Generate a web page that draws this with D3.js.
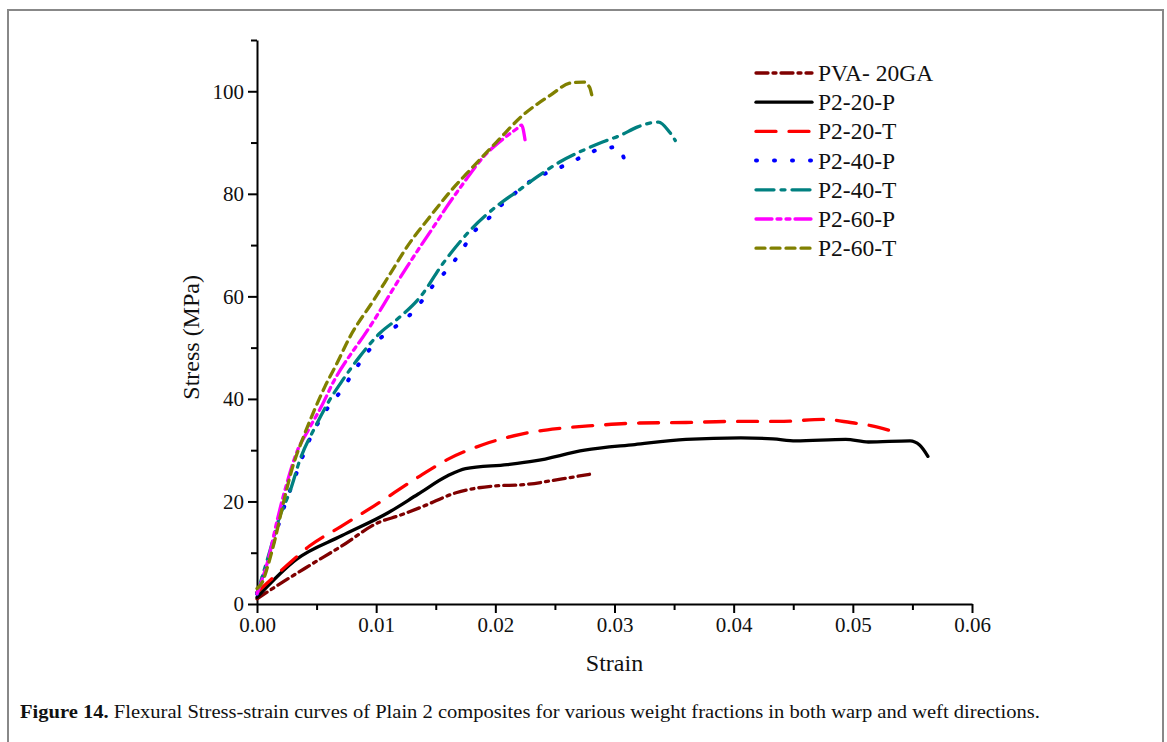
<!DOCTYPE html>
<html>
<head>
<meta charset="utf-8">
<script src="https://cdn.jsdelivr.net/npm/d3@7"></script>
<style>
  body { margin: 0; background: #fff; }
  svg text { font-family: "Liberation Serif", "Times New Roman", serif; }
</style>
</head>
<body>
<div id="chart"></div>
<script>
// values: [strain, stress (MPa)]
const pva20ga = [[0, 1.0], [0.0017, 3.6], [0.0044, 7.5], [0.0071, 11.3], [0.0102, 15.9], [0.012, 17.3], [0.014, 19.1], [0.0167, 21.7], [0.0198, 23.0], [0.0225, 23.3], [0.0256, 24.4], [0.0279, 25.3]];
const p220P = [[0, 1.3], [0.0033, 8.7], [0.0071, 13.3], [0.011, 17.8], [0.0135, 21.4], [0.016, 25.0], [0.0175, 26.4], [0.021, 27.2], [0.0233, 27.9], [0.0275, 30.0], [0.0317, 31.1], [0.036, 32.1], [0.0406, 32.4], [0.0433, 32.2], [0.0452, 31.8], [0.0494, 32.1], [0.0513, 31.6], [0.0548, 31.8], [0.0556, 31.0], [0.0563, 28.8]];
const p220T = [[0, 2.3], [0.0025, 7.5], [0.0044, 11.3], [0.0071, 15.2], [0.0098, 19.1], [0.0137, 25.0], [0.016, 28.2], [0.019, 31.1], [0.0221, 33.1], [0.0252, 34.2], [0.0283, 34.8], [0.0321, 35.3], [0.036, 35.4], [0.0398, 35.6], [0.0437, 35.6], [0.0475, 36.0], [0.0498, 35.4], [0.0515, 34.8], [0.0533, 33.7]];
const p240P = [[0, 2.0], [0.001, 9.0], [0.0021, 17.7], [0.0032, 24.8], [0.0044, 32.0], [0.0061, 38.8], [0.0071, 41.7], [0.0084, 46.3], [0.01, 51.1], [0.0114, 53.7], [0.0128, 56.3], [0.014, 59.6], [0.0149, 62.5], [0.0162, 65.8], [0.0172, 69.0], [0.0181, 72.3], [0.0193, 74.9], [0.0205, 77.8], [0.0218, 80.4], [0.0233, 83.0], [0.0249, 84.6], [0.0264, 86.2], [0.0274, 87.4], [0.0289, 88.8], [0.0303, 89.1], [0.031, 85.2]];
const p240T = [[0, 2.0], [0.0011, 10.5], [0.0019, 17.0], [0.0028, 22.2], [0.0036, 28.1], [0.0049, 34.6], [0.0061, 39.8], [0.0072, 43.7], [0.0086, 48.2], [0.0103, 52.8], [0.012, 56.0], [0.0137, 59.9], [0.0156, 66.4], [0.0179, 72.9], [0.0204, 78.1], [0.0218, 80.4], [0.0235, 83.3], [0.0254, 86.2], [0.0271, 88.2], [0.029, 90.1], [0.0305, 91.4], [0.0319, 93.0], [0.0337, 94.0], [0.0346, 92.1], [0.0351, 90.4]];
const p260P = [[0, 2.0], [0.001, 9.2], [0.0017, 16.4], [0.0025, 23.5], [0.0033, 29.4], [0.0043, 33.9], [0.0054, 38.5], [0.0065, 43.7], [0.0081, 49.5], [0.0089, 52.1], [0.01, 56.0], [0.0112, 60.6], [0.0126, 65.8], [0.0137, 69.7], [0.0148, 73.5], [0.0159, 77.4], [0.0173, 82.0], [0.019, 87.2], [0.0207, 90.8], [0.0218, 92.7], [0.0222, 93.4], [0.0225, 90.4]];
const p260T = [[0, 3.0], [0.0005, 4.5], [0.0008, 6.6], [0.0015, 12.5], [0.0022, 19.6], [0.003, 26.8], [0.0039, 32.6], [0.0047, 37.2], [0.0057, 42.4], [0.0067, 46.9], [0.0078, 52.1], [0.0098, 59.3], [0.0112, 64.5], [0.0126, 69.7], [0.0145, 75.5], [0.0162, 80.4], [0.0181, 85.2], [0.0201, 90.1], [0.0223, 95.3], [0.0246, 99.2], [0.0263, 101.6], [0.0274, 101.8], [0.0279, 100.8], [0.0281, 99.2]];

const seriesNames = ['PVA- 20GA', 'P2-20-P', 'P2-20-T', 'P2-40-P', 'P2-40-T', 'P2-60-P', 'P2-60-T'];
const seriesValues = [pva20ga, p220P, p220T, p240P, p240T, p260P, p260T];
const xTicks = [0, 0.01, 0.02, 0.03, 0.04, 0.05, 0.06];
const xMinorTicks = [0.005, 0.015, 0.025, 0.035, 0.045, 0.055];
const yTicks = [0, 20, 40, 60, 80, 100];
const yMinorTicks = [10, 30, 50, 70, 90, 110];
const captionBold = 'Figure 14.';
const captionText = ' Flexural Stress-strain curves of Plain 2 composites for various weight fractions in both warp and weft directions.';

// line styles per series (same order as seriesNames)
const styles = [
  { color: '#7f0000', dash: '12,5,3,5' },
  { color: '#000000', dash: null },
  { color: '#ff0000', dash: '20,13' },
  { color: '#0000ff', dash: '1,17' },
  { color: '#008080', dash: '18,7,4,7' },
  { color: '#ff00ff', dash: '16,5,4,5,4,5' },
  { color: '#808000', dash: '9,6' }
];

const dimensions = {
  width: 1167,
  height: 742,
  margin: { top: 40, bottom: 138, left: 257, right: 195 }
};

const svg = d3.select('#chart')
  .append('svg')
  .attr('width', dimensions.width)
  .attr('height', dimensions.height);

// figure frame
svg.append('rect')
  .attr('x', 8).attr('y', 10)
  .attr('width', 1155).attr('height', 760)
  .attr('fill', 'none').attr('stroke', '#888').attr('stroke-width', 2);

const bodyWidth = dimensions.width - dimensions.margin.left - dimensions.margin.right;
const bodyHeight = dimensions.height - dimensions.margin.top - dimensions.margin.bottom;

const xScale = d3.scaleLinear().domain([0, 0.06]).range([dimensions.margin.left, dimensions.margin.left + bodyWidth]);
const yScale = d3.scaleLinear().domain([0, 110]).range([dimensions.margin.top + bodyHeight, dimensions.margin.top]);

// X axis
svg.append('g')
  .attr('transform', `translate(0,${yScale(0)})`)
  .call(d3.axisBottom(xScale).tickValues(xTicks).tickFormat(d3.format('.2f')).tickSizeInner(9).tickSizeOuter(0).tickPadding(4));
svg.append('g')
  .attr('transform', `translate(0,${yScale(0)})`)
  .call(d3.axisBottom(xScale).tickValues(xMinorTicks).tickFormat('').tickSizeInner(6).tickSizeOuter(0))
  .select('.domain').remove();

// Y axis
svg.append('g')
  .attr('transform', `translate(${xScale(0)},0)`)
  .call(d3.axisLeft(yScale).tickValues(yTicks).tickSizeInner(9).tickSizeOuter(0).tickPadding(4));
svg.append('g')
  .attr('transform', `translate(${xScale(0)},0)`)
  .call(d3.axisLeft(yScale).tickValues(yMinorTicks).tickFormat('').tickSizeInner(6).tickSizeOuter(0))
  .select('.domain').remove();

svg.selectAll('.domain').attr('stroke', '#000').attr('stroke-width', 2);
svg.selectAll('.tick line').attr('stroke', '#000').attr('stroke-width', 2);
svg.selectAll('.tick text').attr('font-size', '21px').attr('fill', '#111');

// axis titles
svg.append('text')
  .attr('x', xScale(0.03))
  .attr('y', 671)
  .attr('text-anchor', 'middle')
  .attr('font-size', '24px')
  .attr('fill', '#111')
  .text('Strain');

svg.append('text')
  .attr('transform', `translate(199,${yScale(52)}) rotate(-90)`)
  .attr('text-anchor', 'middle')
  .attr('font-size', '24px')
  .attr('fill', '#111')
  .text('Stress (MPa)');

// curves
const line = d3.line()
  .x(d => xScale(d[0]))
  .y(d => yScale(d[1]))
  .curve(d3.curveMonotoneX);

const curveData = seriesNames.map((name, i) => ({ name, values: seriesValues[i], style: styles[i] }));

svg.append('g').selectAll('path')
  .data(curveData)
  .enter().append('path')
  .attr('d', d => line(d.values))
  .attr('fill', 'none')
  .attr('stroke', d => d.style.color)
  .attr('stroke-width', d => d.style.dash === '1,17' ? 4 : 3.3)
  .attr('stroke-linecap', 'round')
  .attr('stroke-dasharray', d => d.style.dash);

// legend
const legend = svg.append('g').attr('transform', 'translate(756, 73)');
const legendItem = legend.selectAll('.legendItem')
  .data(curveData)
  .enter().append('g')
  .attr('class', 'legendItem')
  .attr('transform', (d, i) => `translate(0, ${i * 29.2})`);
legendItem.append('line')
  .attr('x1', 0).attr('x2', 56).attr('y1', 0).attr('y2', 0)
  .attr('stroke', d => d.style.color)
  .attr('stroke-width', d => d.style.dash === '1,17' ? 4 : 3.3)
  .attr('stroke-linecap', 'round')
  .attr('stroke-dasharray', d => d.style.dash);
legendItem.append('text')
  .attr('x', 62)
  .attr('y', 8)
  .attr('font-size', '23.5px')
  .attr('fill', '#111')
  .text(d => d.name);

// caption
const caption = svg.append('text')
  .attr('x', 20)
  .attr('y', 718)
  .attr('font-size', '19px')
  .attr('fill', '#111')
  .attr('textLength', 1020)
  .attr('lengthAdjust', 'spacingAndGlyphs');
caption.append('tspan').attr('font-weight', 'bold').text(captionBold);
caption.append('tspan').text(captionText);
</script>
</body>
</html>
